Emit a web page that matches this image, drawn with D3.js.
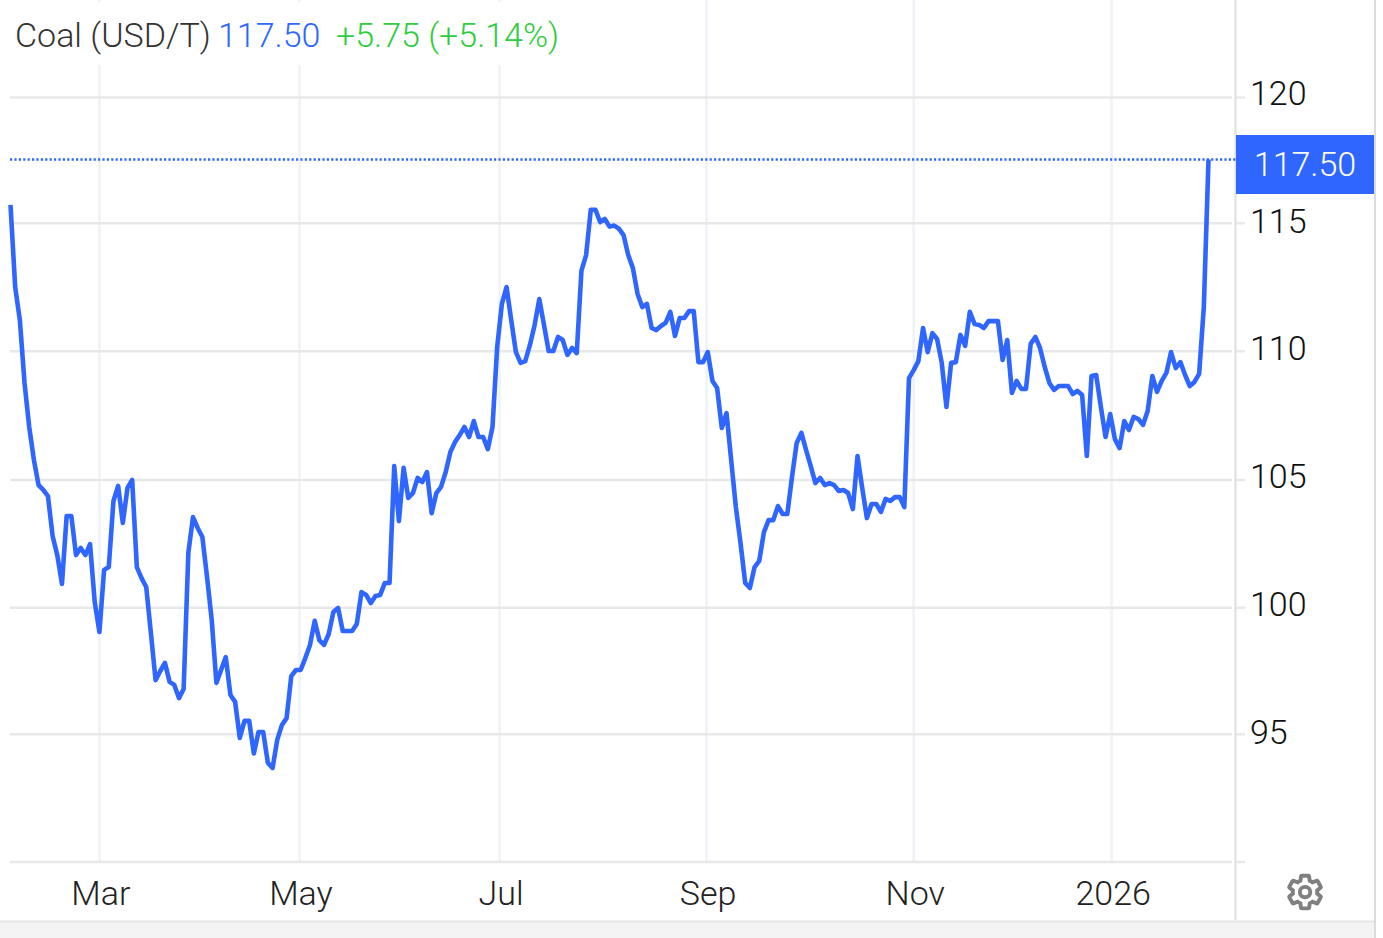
<!DOCTYPE html>
<html><head><meta charset="utf-8">
<style>html,body{margin:0;padding:0;background:#fff}svg{display:block}text{font-family:Roboto,sans-serif;font-weight:300}</style>
<script src="https://cdn.jsdelivr.net/npm/d3@7"></script></head><body>
<svg id="c" width="1383" height="938"></svg>
<script>
const values=[115.72,112.51,111.22,108.77,107.06,105.78,104.80,104.61,104.37,102.81,102.06,100.93,103.59,103.59,102.06,102.34,102.06,102.49,100.22,99.04,
101.48,101.59,104.18,104.77,103.32,104.69,105.00,101.59,101.16,100.81,99.00,97.14,97.50,97.82,97.07,96.95,96.43,96.79,102.14,103.55,
103.12,102.77,101.20,99.51,97.03,97.54,98.05,96.55,96.28,94.86,95.53,95.53,94.25,95.09,95.09,93.88,93.68,94.78,95.37,95.64,
97.30,97.54,97.54,98.01,98.53,99.48,98.72,98.53,98.96,99.83,99.99,99.08,99.08,99.08,99.36,100.61,100.50,100.18,100.46,100.50,
100.97,100.97,105.54,103.39,105.47,104.30,104.49,105.08,104.92,105.31,103.70,104.49,104.73,105.31,106.09,106.48,106.75,107.06,106.67,107.29,
106.67,106.67,106.20,107.06,110.17,111.85,112.51,111.22,109.97,109.55,109.62,110.25,111.03,112.04,111.03,110.01,110.01,110.56,110.44,109.86,
110.13,109.93,113.14,113.76,115.53,115.53,115.05,115.17,114.87,114.91,114.79,114.54,113.76,113.25,112.24,111.73,111.85,110.91,110.83,110.99,
111.11,111.54,110.60,111.30,111.30,111.57,111.57,109.58,109.58,109.97,108.85,108.57,107.02,107.60,105.78,103.94,102.53,100.97,100.77,101.59,
101.83,102.96,103.43,103.43,103.98,103.67,103.67,105.12,106.44,106.83,106.17,105.54,104.88,105.08,104.80,104.88,104.80,104.57,104.61,104.49,
103.86,105.93,104.69,103.51,104.06,104.06,103.75,104.26,104.18,104.33,104.33,103.94,108.96,109.27,109.62,110.91,109.97,110.71,110.48,109.55,
107.84,109.55,109.58,110.64,110.21,111.54,111.07,111.03,110.91,111.18,111.18,111.18,109.66,110.44,108.38,108.85,108.54,108.54,110.29,110.56,
110.13,109.39,108.77,108.50,108.65,108.65,108.65,108.34,108.46,108.30,105.93,109.04,109.08,107.84,106.67,107.56,106.59,106.24,107.29,106.94,
107.45,107.37,107.14,107.68,109.04,108.42,108.85,109.16,109.97,109.35,109.58,109.08,108.65,108.81,109.12,111.73,117.50];
const yTicks=[95,100,105,110,115,120];
const xTickLabels=["Mar","May","Jul","Sep","Nov","2026"];
const xTickIndex=[19,61.75,104.5,148.75,193,235.3];
const titleName="Coal (USD/T)", titlePrice="117.50", titleChange="+5.75 (+5.14%)", lastLabel="117.50";

const BLUE="#2e66ff",GRID="#e8e8e8",VGRID="#eff3f7",AXIS="#e3e3e3";
const FS=34;
const svg=d3.select("#c");
const x=d3.scaleLinear().domain([0,values.length-1]).range([10.5,1208.5]);
const y=d3.scaleLinear().domain([90,95,100,105,110,115,117.5,120]).range([862,734.3,607.7,480,351.3,223.3,159.5,97.5]);
const yLabel=d3.scaleLinear().domain([95,120]).range([743.5,105]);

// vertical grid
svg.append("g").selectAll("line").data(xTickIndex).join("line")
 .attr("x1",d=>x(d)).attr("x2",d=>x(d)).attr("y1",0).attr("y2",862)
 .attr("stroke",VGRID).attr("stroke-width",2.6);
// horizontal grid + stubs
const hg=svg.append("g");
hg.selectAll("line.g").data(yTicks).join("line").attr("class","g")
 .attr("x1",10).attr("x2",1232).attr("y1",d=>y(d)).attr("y2",d=>y(d)).attr("stroke",GRID).attr("stroke-width",2.4);
hg.selectAll("line.s").data(yTicks.concat([90])).join("line").attr("class","s")
 .attr("x1",1236).attr("x2",1245).attr("y1",d=>y(d)).attr("y2",d=>y(d)).attr("stroke",GRID).attr("stroke-width",2.4);
svg.append("line").attr("x1",10).attr("x2",1232).attr("y1",y(90)).attr("y2",y(90)).attr("stroke",GRID).attr("stroke-width",2.4);
svg.append("line").attr("x1",1235.5).attr("x2",1235.5).attr("y1",0).attr("y2",920).attr("stroke",AXIS).attr("stroke-width",2.4);

// title backing
svg.append("rect").attr("x",8).attr("y",2).attr("width",560).attr("height",63).attr("fill","#fff");

// last price dotted line
svg.append("line").attr("x1",10).attr("x2",1236).attr("y1",y(117.5)).attr("y2",y(117.5))
 .attr("stroke",BLUE).attr("stroke-width",2.4).attr("stroke-dasharray","2.2 2.2");
// series
svg.append("path").datum(values)
 .attr("d",d3.line().x((d,i)=>x(i)).y(d=>y(d)))
 .attr("fill","none").attr("stroke",BLUE).attr("stroke-width",4.6).attr("stroke-linejoin","round");

// y labels
svg.append("g").selectAll("text").data(yTicks).join("text")
 .attr("x",1250).attr("y",d=>yLabel(d)).attr("font-size",FS).attr("fill","#111").text(d=>d);
// badge
svg.append("rect").attr("x",1236).attr("y",135).attr("width",138).attr("height",59).attr("fill",BLUE);
svg.append("text").attr("x",1305).attr("y",175.5).attr("text-anchor","middle").attr("font-size",FS).attr("fill","#fff").text(lastLabel);
// x labels
svg.append("g").selectAll("text").data(xTickLabels).join("text")
 .attr("x",(d,i)=>x(xTickIndex[i])+1.5).attr("y",904.5).attr("text-anchor","middle")
 .attr("font-size",FS).attr("fill","#222").text(d=>d);
// title
const t=svg.append("g").attr("font-size",FS);
t.append("text").attr("x",15).attr("y",47).attr("fill","#333").text(titleName);
t.append("text").attr("x",218).attr("y",47).attr("fill",BLUE).text(titlePrice);
t.append("text").attr("x",336).attr("y",47).attr("fill","#2ecc40").text(titleChange);

// gear
const g=svg.append("g").attr("transform","translate(1285.5,872.5) scale(1.63)");
g.append("path").attr("d","M19.43 12.98c.04-.32.07-.64.07-.98 0-.34-.03-.66-.07-.98l2.11-1.65c.19-.15.24-.42.12-.64l-2-3.46c-.12-.22-.39-.3-.61-.22l-2.49 1c-.52-.4-1.08-.73-1.69-.98l-.38-2.65C14.46 2.18 14.25 2 14 2h-4c-.25 0-.46.18-.49.42l-.38 2.65c-.61.25-1.17.59-1.69.98l-2.49-1c-.23-.09-.49 0-.61.22l-2 3.46c-.13.22-.07.49.12.64l2.11 1.65c-.04.32-.07.65-.07.98 0 .33.03.66.07.98l-2.11 1.65c-.19.15-.24.42-.12.64l2 3.46c.12.22.39.3.61.22l2.49-1c.52.4 1.08.73 1.69.98l.38 2.65c.03.24.24.42.49.42h4c.25 0 .46-.18.49-.42l.38-2.65c.61-.25 1.17-.59 1.69-.98l2.49 1c.23.09.49 0 .61-.22l2-3.46c.12-.22.07-.49-.12-.64l-2.11-1.65z")
 .attr("fill","none").attr("stroke","#808080").attr("stroke-width",2.4);
g.append("circle").attr("cx",12).attr("cy",12).attr("r",3.2).attr("fill","none").attr("stroke","#808080").attr("stroke-width",2.4);

// frame
svg.append("rect").attr("x",0).attr("y",922).attr("width",1374).attr("height",16).attr("fill","#f4f4f4");
svg.append("line").attr("x1",0).attr("x2",1374).attr("y1",921.5).attr("y2",921.5).attr("stroke","#e6e6e6").attr("stroke-width",2);
svg.append("line").attr("x1",1375).attr("x2",1375).attr("y1",0).attr("y2",938).attr("stroke","#dcdcdc").attr("stroke-width",2);
</script></body></html>
